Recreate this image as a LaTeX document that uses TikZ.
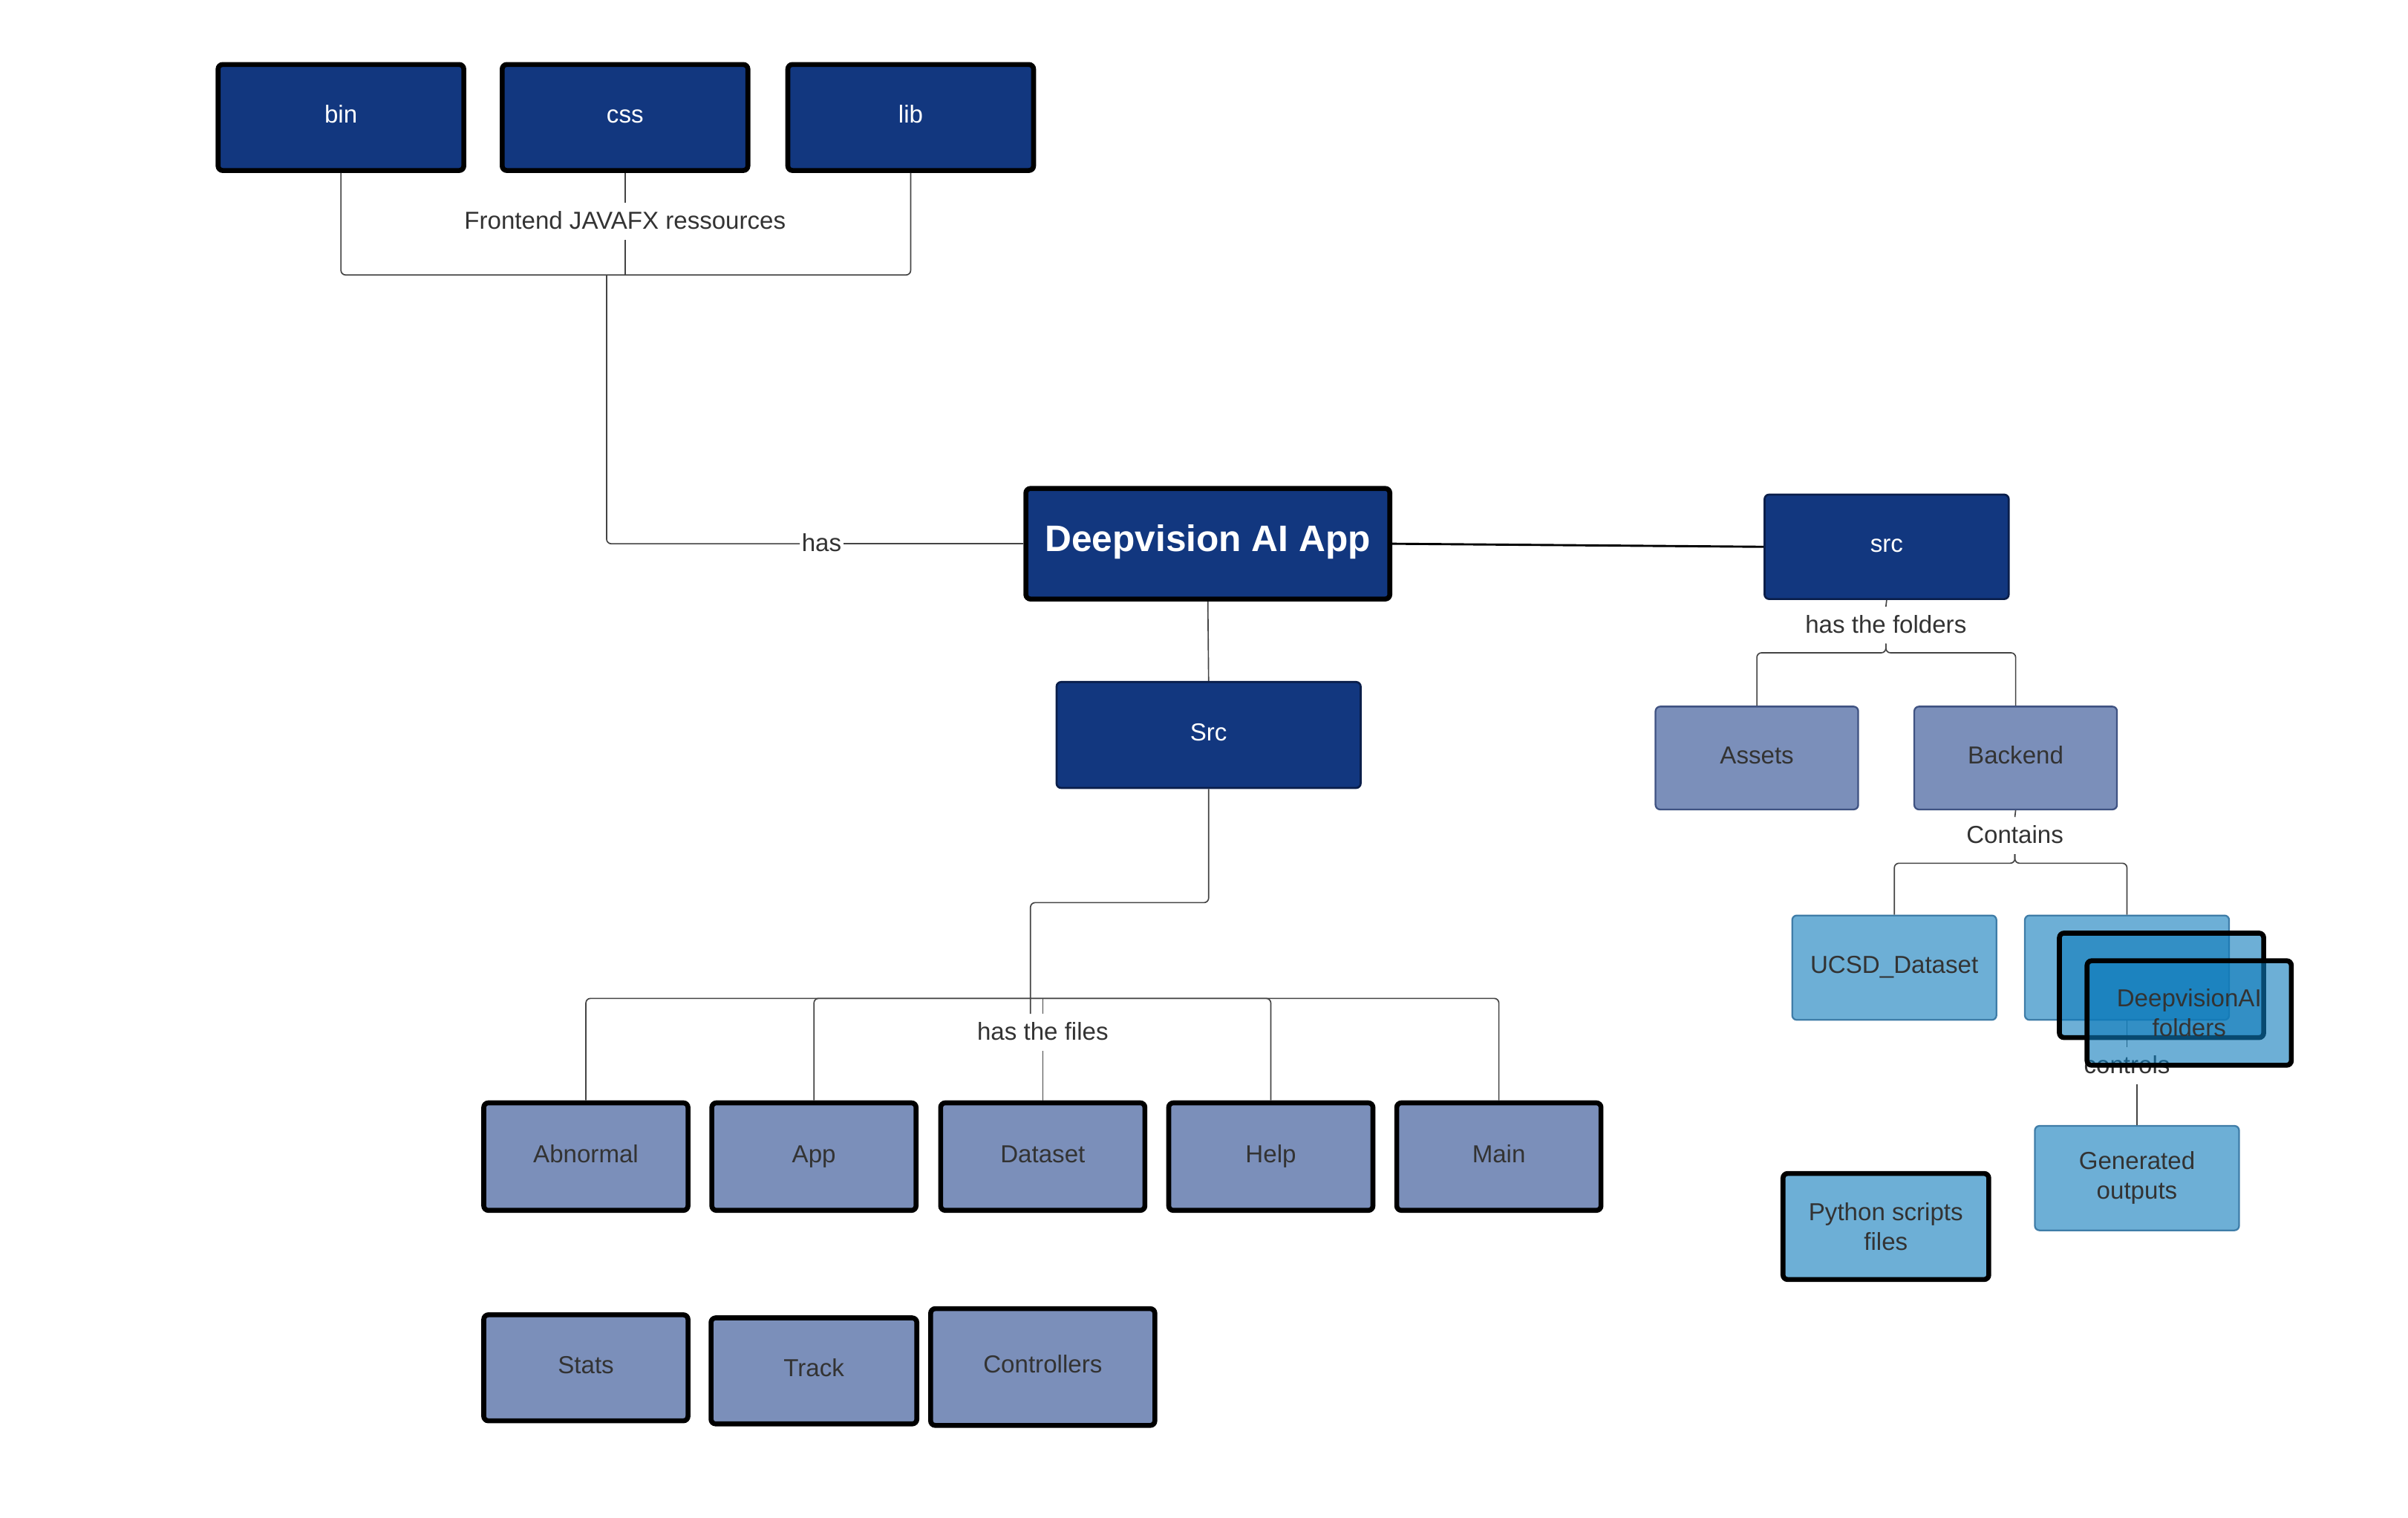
\documentclass[tikz,border=0pt]{standalone}
\usepackage{fontspec}
\setmainfont{Liberation Sans}

\definecolor{navy}{HTML}{12377F}
\definecolor{navyline}{HTML}{0A1E4A}
\definecolor{slate}{HTML}{7B8FBA}
\definecolor{slateline}{HTML}{3F5282}
\definecolor{sky}{HTML}{0D7BBB}
\definecolor{skyline}{HTML}{3F7DA8}
\definecolor{ink}{HTML}{333333}
\definecolor{wirecol}{HTML}{444444}

\tikzset{every picture/.style={line width=0.75pt}}
\tikzset{
  box/.style={rectangle, rounded corners=1.5pt, align=center, inner sep=1pt,
    text height=0.72em, text depth=0.35em, font=\fontsize{8}{9.7}\selectfont},
  navybox/.style={box, fill=navy, draw=navyline, line width=0.65pt, text=white},
  navythick/.style={box, fill=navy, draw=black, line width=1.6pt, text=white},
  slatebox/.style={box, fill=slate, draw=slateline, line width=0.55pt, text=ink},
  slatethick/.style={box, fill=slate, draw=black, line width=1.6pt, text=ink},
  skybox/.style={box, fill=sky, fill opacity=0.6, text opacity=1, draw=skyline, line width=0.55pt, text=ink},
  skythick/.style={skybox, draw=black, line width=1.6pt},
  twolines/.style={text height={}, text depth={}},
  lbl/.style={inner xsep=0.3pt, inner ysep=1pt, text height=0.72em, text depth=0.21em,
    text=ink, font=\fontsize{8}{9.7}\selectfont},
  wire/.style={draw=wirecol, line width=0.4pt, rounded corners=1.5pt},
}

\begin{document}
\begin{tikzpicture}[x=0.5pt,y=0.5pt,yscale=-1,xscale=1]
%set diagram left start at 0, and has height of 988
\fill[white] (0,0) rectangle (1568,988);
\useasboundingbox (0,0) rectangle (1568,988);

%Shape: Rectangle [frontend resources]
\node [navythick, minimum width=80pt, minimum height=34.5pt] (bin) at (222,76.5) {bin};
\node [navythick, minimum width=80pt, minimum height=34.5pt] (css) at (407,76.5) {css};
\node [navythick, minimum width=80pt, minimum height=34.5pt] (lib) at (593,76.5) {lib};

%Shape: Rectangle [app]
\node [navythick, text depth=0.24em, minimum width=118.5pt, minimum height=36pt, font=\fontsize{12}{14}\selectfont\bfseries] (deepapp) at (786.5,354) {Deepvision AI App};
%Shape: Rectangle [src]
\node [navybox, minimum width=79.5pt, minimum height=34pt] (src) at (1228.5,356) {src};
\node [navybox, minimum width=99pt, minimum height=34.5pt] (srcf) at (787,478.5) {Src};

%Shape: Rectangle [folders]
\node [slatebox, minimum width=66pt, minimum height=33.5pt] (assets) at (1144,493.5) {Assets};
\node [slatebox, minimum width=66pt, minimum height=33.5pt] (backend) at (1312.5,493.5) {Backend};

%Shape: Rectangle [backend content]
\node [skybox, minimum width=66.5pt, minimum height=34pt] (ucsd) at (1233.5,630) {UCSD\_Dataset};
\node [skybox, minimum width=66.5pt, minimum height=34pt] (fold1) at (1385,630) {};
\node [skybox, twolines, minimum width=66.5pt, minimum height=34pt] (gen) at (1391.5,767) {Generated\\outputs};
\node [skythick, twolines, minimum width=67pt, minimum height=34.5pt] (python) at (1228,798.5) {Python scripts\\files};

%Shape: Rectangle [files]
\node [slatethick, minimum width=66.5pt, minimum height=35pt] (abn) at (381.5,753) {Abnormal};
\node [slatethick, minimum width=66.5pt, minimum height=35pt] (fapp) at (530,753) {App};
\node [slatethick, minimum width=66.5pt, minimum height=35pt] (dataset) at (679,753) {Dataset};
\node [slatethick, minimum width=66.5pt, minimum height=35pt] (help) at (827.5,753) {Help};
\node [slatethick, minimum width=66.5pt, minimum height=35pt] (main) at (976,753) {Main};
\node [slatethick, minimum width=66.5pt, minimum height=34.5pt] (stats) at (381.5,890.5) {Stats};
\node [slatethick, minimum width=67pt, minimum height=34.5pt] (track) at (530,892.5) {Track};
\node [slatethick, minimum width=73pt, minimum height=38pt] (ctrl) at (679,890) {Controllers};

% Text Node
\node [lbl] (fres) at (407,144) {Frontend JAVAFX ressources};
% Text Node
\node [lbl] (has) at (535,354) {has};
% Text Node
\node [lbl] (hfold) at (1228,407) {has the folders};
% Text Node
\node [lbl] (cont) at (1312,544) {Contains};
% Text Node
\node [lbl] (ctl) at (1385,694) {controls};
% Text Node
\node [lbl] (hfiles) at (679,672) {has the files};

\coordinate (resbar) at (407,179);
\coordinate (hasjoin) at (395,179);
\coordinate (foldbar) at (1228,425);
\coordinate (contbar) at (1312,562);
\coordinate (srcend) at (671,660);
\coordinate (filesbar) at (679,650);

%Elbow Lines [frontend]
\draw [wire] (bin.south) |- (resbar) -| (lib.south);
\draw [wire] (css.south) -- (fres.north);
\draw [wire] (fres.south) -- (resbar);
\draw [wire] (deepapp.west) -- (has.east);
\draw [wire] (has.west) -| (hasjoin);

%Straight Lines [app to src]
\draw [line width=0.7pt] (deepapp.east) -- (src.west);
\draw [wire] (deepapp.south) -- (srcf.north);

%Elbow Lines [folders]
\draw [wire] (src.south) -- (hfold.north);
\draw [wire] (hfold.south) -- (foldbar) -| (assets.north);
\draw [wire] (hfold.south) -- (foldbar) -| (backend.north);
\draw [wire] (backend.south) -- (cont.north);
\draw [wire] (cont.south) -- (contbar) -| (ucsd.north);
\draw [wire] (cont.south) -- (contbar) -| (fold1.north);
\draw [wire] (fold1.south) -- (ctl.north);
\draw [wire] (ctl.south -| gen.north) -- (gen.north);

%Elbow Lines [files]
\draw [wire] (srcf.south) -- ++(0,74) -| (srcend);
\draw [wire] (abn.north) |- (filesbar) -| (main.north);
\draw [wire] (fapp.north) |- (filesbar) -| (help.north);
\draw [wire] (filesbar) -- (hfiles.north);
\draw [wire] (hfiles.south) -- (dataset.north);

%Shape: Rectangle [stacked folders, on top]
\node [skythick, minimum width=66.5pt, minimum height=34pt] (fold2) at (1407.5,641.5) {};
\node [skythick, twolines, minimum width=66.5pt, minimum height=34pt] (fold3) at (1425.5,659.5) {DeepvisionAI\\folders};

\end{tikzpicture}
\end{document}
